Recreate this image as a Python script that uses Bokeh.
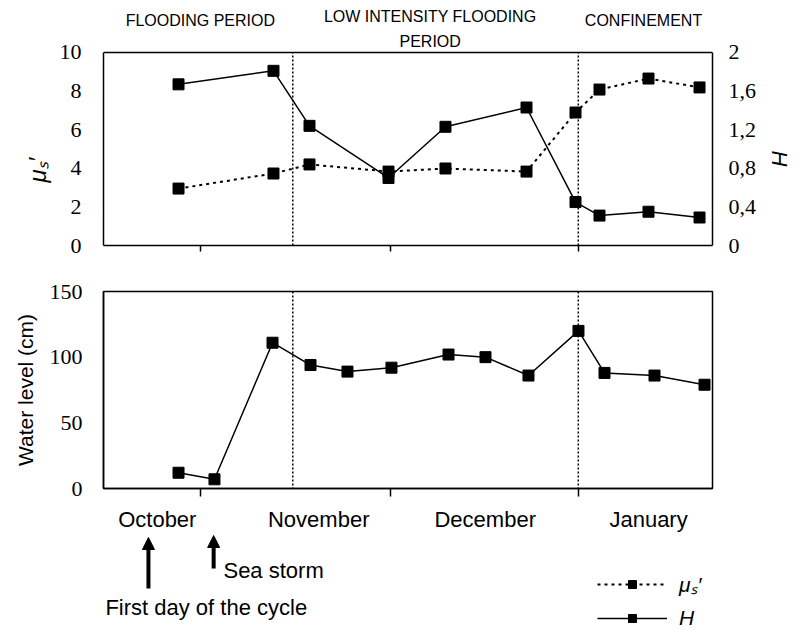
from bokeh.plotting import figure
from bokeh.models import (Range1d, LinearAxis, FixedTicker, Span, Label, Arrow, NormalHead,
                          Legend, LegendItem, CustomJSTickFormatter, Title)
from bokeh.core.properties import value
from bokeh.layouts import column
from bokeh.embed import file_html
from bokeh.resources import INLINE

# ---------------- data (x in days of the cycle) ----------------
top_days = [11.85, 26.85, 32.54, 45.02, 54.02, 66.82, 74.56, 78.35, 86.09, 94.15]
mu_values = [2.95, 3.73, 4.20, 3.83, 3.99, 3.83, 6.89, 8.08, 8.65, 8.19]
h_values = [1.67, 1.81, 1.24, 0.70, 1.23, 1.43, 0.45, 0.31, 0.35, 0.29]

wl_days = [11.85, 17.53, 26.70, 32.70, 38.54, 45.49, 54.50, 60.34, 67.13, 75.03, 79.14, 87.04, 94.94]
wl_values = [12, 7, 111, 94, 89, 92, 102, 100, 86, 120, 88, 86, 79]

month_labels = ["October", "November", "December", "January"]
month_label_days = [8.5, 34.0, 60.3, 86.1]
month_tick_days = [15.3, 45.3, 75.1]
period_boundaries = [29.9, 75.0]

period_texts = ["FLOODING PERIOD", "LOW INTENSITY FLOODING", "PERIOD", "CONFINEMENT"]
period_x = [15.3, 51.6, 51.6, 85.3]
period_y = [11.66, 11.87, 10.57, 11.66]

mu_ticks = [0, 2, 4, 6, 8, 10]
h_ticks = [0, 0.4, 0.8, 1.2, 1.6, 2]
wl_ticks = [0, 50, 100, 150]

event_days = [7.1, 17.4]
event_labels = ["First day of the cycle", "Sea storm"]

MU_LABEL = "\u03bc\u209b\u2032"
SANS = "Liberation Sans"
SERIF = "Liberation Serif"

MU_MAX, H_MAX = 10, 2
HEADROOM = 1.2487          # extra space above the box that holds the period titles
x_range = Range1d(0, 96.2)


def style_y(ax, size="22px"):
    ax.major_tick_out = 0
    ax.major_tick_in = 0
    ax.minor_tick_line_color = None
    ax.axis_line_color = "black"
    ax.axis_line_width = 1.5
    ax.major_label_text_font = SERIF
    ax.major_label_text_font_size = size
    ax.major_label_text_color = "black"
    ax.axis_label_text_color = "black"


# ---------------- top panel ----------------
p1 = figure(width=800, height=265, x_range=x_range, y_range=Range1d(0, MU_MAX * HEADROOM),
            output_backend="svg", toolbar_location=None,
            min_border_left=103, min_border_right=88, min_border_top=4, min_border_bottom=20)
p1.outline_line_color = None
p1.grid.visible = False
p1.extra_y_ranges = {"H": Range1d(0, H_MAX * HEADROOM)}

yl = p1.yaxis[0]
yl.ticker = FixedTicker(ticks=mu_ticks)
yl.bounds = (0, MU_MAX)
style_y(yl)
yl.major_label_standoff = 22

yr = LinearAxis(y_range_name="H", ticker=FixedTicker(ticks=h_ticks), bounds=(0, H_MAX),
                formatter=CustomJSTickFormatter(code="return tick.toString().replace('.', ',')"))
style_y(yr)
yr.major_label_standoff = 16
p1.add_layout(yr, "right")

# axis titles, placed a little below the middle as in the original
p1.add_layout(Title(text=MU_LABEL, align="left", offset=63, standoff=12,
                    text_font=SANS, text_font_style="italic", text_font_size="24px",
                    text_color="black"), "left")
p1.add_layout(Title(text="H", align="left", offset=146, standoff=14,
                    text_font=SANS, text_font_style="italic", text_font_size="22px",
                    text_color="black"), "right")

xa = p1.xaxis[0]
xa.ticker = FixedTicker(ticks=[], minor_ticks=month_tick_days)
xa.major_tick_out = 0
xa.major_tick_in = 0
xa.minor_tick_out = 6
xa.minor_tick_in = 0
xa.minor_tick_line_color = "black"
xa.minor_tick_line_width = 1.5
xa.axis_line_color = "black"
xa.axis_line_width = 1.5

# top edge of the box
p1.add_layout(Span(location=MU_MAX, dimension="width", line_color="black", line_width=1.5))
p1.segment(x0=period_boundaries, y0=0, x1=period_boundaries, y1=MU_MAX,
           line_color="black", line_dash="2 2", line_width=1.5)

p1.line(top_days, mu_values, line_color="black", line_width=2, line_dash="3 4")
p1.scatter(top_days, mu_values, marker="square", size=11, color="black")
p1.line(top_days, h_values, line_color="black", line_width=1.5, y_range_name="H")
p1.scatter(top_days, h_values, marker="square", size=11, color="black", y_range_name="H")

p1.text(x=period_x, y=period_y, text=period_texts, text_align="center", text_baseline="middle",
        text_font=value(SANS), text_font_size="16px", text_color="black")

# ---------------- bottom panel ----------------
p2 = figure(width=800, height=269, x_range=x_range, y_range=Range1d(0, 150),
            output_backend="svg", toolbar_location=None,
            min_border_left=103, min_border_right=88, min_border_top=26, min_border_bottom=45)
p2.outline_line_color = "black"
p2.outline_line_width = 1.5
p2.grid.visible = False

y2 = p2.yaxis[0]
y2.ticker = FixedTicker(ticks=wl_ticks)
style_y(y2)
y2.major_label_standoff = 21
y2.axis_label = "Water level (cm)"
y2.axis_label_text_font = SANS
y2.axis_label_text_font_style = "normal"
y2.axis_label_text_font_size = "21px"
y2.axis_label_standoff = 10

x2 = p2.xaxis[0]
x2.ticker = FixedTicker(ticks=month_label_days, minor_ticks=month_tick_days)
x2.major_label_overrides = {d: m for d, m in zip(month_label_days, month_labels)}
x2.major_tick_out = 0
x2.major_tick_in = 0
x2.minor_tick_out = 8
x2.minor_tick_in = 0
x2.minor_tick_line_color = "black"
x2.minor_tick_line_width = 1.5
x2.major_label_standoff = 10
x2.major_label_text_font = SANS
x2.major_label_text_font_size = "22px"
x2.major_label_text_color = "black"
x2.axis_line_color = "black"
x2.axis_line_width = 1.5

for b in period_boundaries:
    p2.add_layout(Span(location=b, dimension="height", line_color="black",
                       line_dash="2 2", line_width=1.5))

p2.line(wl_days, wl_values, line_color="black", line_width=1.5)
p2.scatter(wl_days, wl_values, marker="square", size=11, color="black")

# ---------------- annotation strip ----------------
p3 = figure(width=800, height=96, x_range=x_range, y_range=Range1d(0, 96),
            output_backend="svg", toolbar_location=None,
            x_axis_location=None, y_axis_location=None,
            min_border_left=103, min_border_right=88, min_border_top=0, min_border_bottom=0)
p3.outline_line_color = None
p3.grid.visible = False
p3.extra_y_ranges = {"proxy": Range1d(-1000, -999)}

arrow_spans = [(42, 93), (62, 95)]
for d, (y0, y1) in zip(event_days, arrow_spans):
    p3.add_layout(Arrow(end=NormalHead(size=12, fill_color="black", line_color="black"),
                        x_start=d, y_start=y0, x_end=d, y_end=y1,
                        line_color="black", line_width=4))

p3.add_layout(Label(x=0.3, y=23, text=event_labels[0], text_align="left", text_baseline="middle",
                    text_font=SANS, text_font_size="22px", text_color="black"))
p3.add_layout(Label(x=18.95, y=60, text=event_labels[1], text_align="left", text_baseline="middle",
                    text_font=SANS, text_font_size="22px", text_color="black"))

# legend proxies: the real series on a range that keeps them out of view
l_mu = p3.line(top_days, mu_values, line_color="black", line_width=2, line_dash="3 4",
               y_range_name="proxy")
s_mu = p3.scatter(top_days, mu_values, marker="square", size=11, color="black",
                  y_range_name="proxy")
l_h = p3.line(top_days, h_values, line_color="black", line_width=1.5, y_range_name="proxy")
s_h = p3.scatter(top_days, h_values, marker="square", size=11, color="black",
                 y_range_name="proxy")
legend = Legend(items=[LegendItem(label=MU_LABEL, renderers=[l_mu, s_mu]),
                       LegendItem(label="H", renderers=[l_h, s_h])],
                location=(494, 0), glyph_width=70, glyph_height=20, spacing=8,
                padding=0, margin=0, label_standoff=12,
                label_text_font=SANS, label_text_font_style="italic",
                label_text_font_size="21px", label_text_color="black",
                background_fill_alpha=0, border_line_alpha=0)
p3.add_layout(legend)

layout = column(p1, p2, p3, spacing=0)
open("out.html", "w").write(file_html(layout, INLINE))
